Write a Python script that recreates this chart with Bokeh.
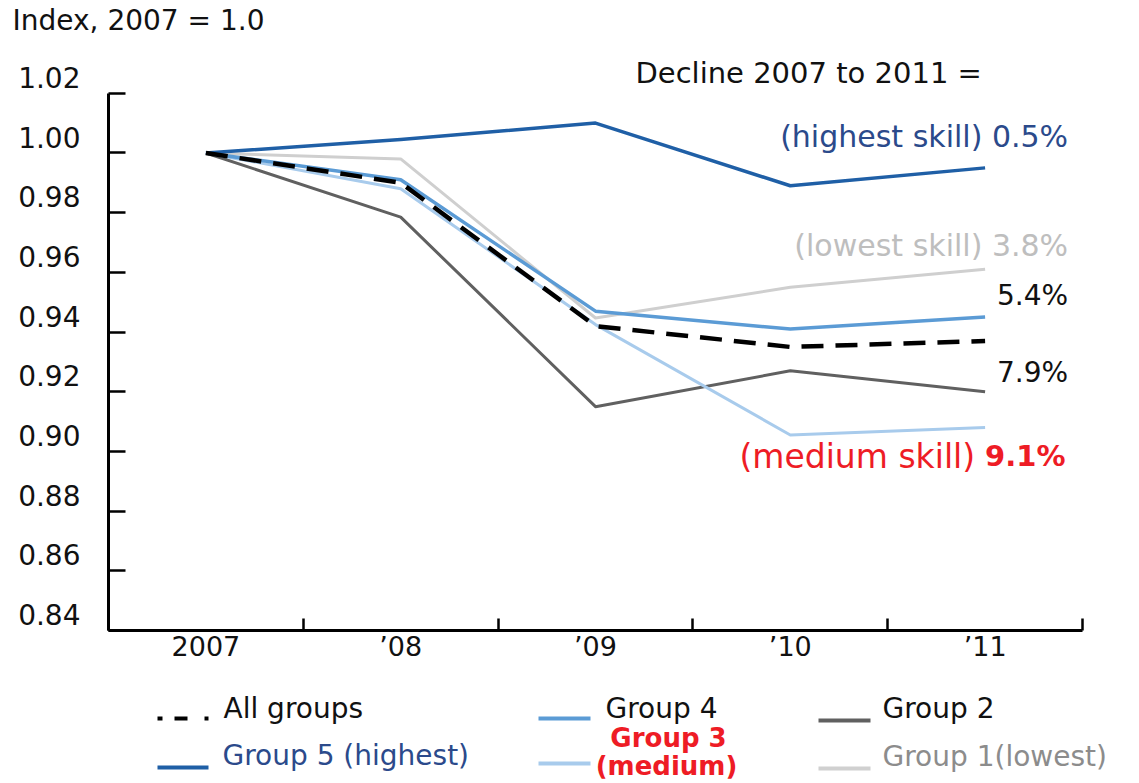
from bokeh.plotting import figure
from bokeh.models import (Range1d, LinearAxis, FixedTicker, Label,
                          CustomJSTickFormatter, PrintfTickFormatter)
from bokeh.layouts import column
from bokeh.embed import file_html
from bokeh.resources import INLINE

# ---------------- data ----------------
years = ["2007", "\u201908", "\u201909", "\u201910", "\u201911"]
all_groups = [1.000, 0.990, 0.942, 0.935, 0.937]
group5 = [1.000, 1.0045, 1.010, 0.989, 0.995]
group4 = [1.000, 0.991, 0.947, 0.941, 0.945]
group3 = [1.000, 0.988, 0.9425, 0.9055, 0.908]
group2 = [1.000, 0.9785, 0.915, 0.927, 0.920]
group1 = [1.000, 0.998, 0.9447, 0.955, 0.961]
y_ticks = [0.84, 0.86, 0.88, 0.90, 0.92, 0.94, 0.96, 0.98, 1.00, 1.02]
declines = ["0.5%", "3.8%", "5.4%", "7.9%", "9.1%"]
y_title = "Index, 2007 = 1.0"

ARIAL = "DejaVu Sans"
x = list(range(len(years)))
bounds_x = [i - 0.5 for i in range(len(years) + 1)]

# ---------------- geometry (layout only) ----------------
W = 1139
LEFT = 108          # frame left (y axis)
TOP = 44            # frame top
BOTTOM = 630        # frame bottom (x axis)
MAIN_H = 685
LEG_H = 96
UNIT_X = 194.8      # px per category
PX = 0.02 / 60.0    # data units per vertical pixel

y0 = min(y_ticks)
y1 = y0 + (BOTTOM - TOP) * PX
x0 = -0.5
x1 = x0 + (W - LEFT) / UNIT_X


def yv(py):
    return y0 + (BOTTOM - py) * PX


def xv(px):
    return (px - LEFT) / UNIT_X - 0.5


p = figure(width=W, height=MAIN_H, x_range=Range1d(x0, x1),
           y_range=Range1d(y0, y1), output_backend="svg",
           toolbar_location=None, min_border_left=LEFT, min_border_right=0,
           min_border_top=TOP, min_border_bottom=MAIN_H - BOTTOM)
p.outline_line_color = None
p.xgrid.visible = False
p.ygrid.visible = False
p.background_fill_color = "white"
p.border_fill_color = "white"

# y axis (ticks + line)
ya = p.yaxis[0]
ya.ticker = FixedTicker(ticks=y_ticks, minor_ticks=[])
ya.bounds = (min(y_ticks), max(y_ticks))
ya.formatter = CustomJSTickFormatter(code="return ''")
ya.major_tick_in = 17
ya.major_tick_out = 0
ya.minor_tick_in = 0
ya.minor_tick_out = 0
ya.axis_line_width = 3
ya.major_tick_line_width = 2.5
ya.major_label_standoff = 0

# y axis labels, sitting slightly above their ticks
shift = 16 * PX
p.extra_y_ranges = {"lab": Range1d(y0 - shift, y1 - shift)}
yl = LinearAxis(y_range_name="lab", ticker=FixedTicker(ticks=y_ticks, minor_ticks=[]),
                formatter=PrintfTickFormatter(format="%.2f"))
yl.axis_line_color = None
yl.major_tick_line_color = None
yl.minor_tick_line_color = None
yl.major_label_standoff = 22
yl.major_label_text_font = ARIAL
yl.major_label_text_font_size = "28px"
yl.major_label_text_color = "#111111"
p.add_layout(yl, "left")

# x axis
xa = p.xaxis[0]
xa.ticker = FixedTicker(ticks=x, minor_ticks=bounds_x)
xa.bounds = (min(bounds_x), max(bounds_x))
xa.major_label_overrides = {i: lab for i, lab in zip(x, years)}
xa.major_tick_in = 0
xa.major_tick_out = 0
xa.minor_tick_in = 12
xa.minor_tick_out = 0
xa.minor_tick_line_width = 2.5
xa.minor_tick_line_color = "black"
xa.axis_line_width = 3
xa.major_label_standoff = 0
xa.major_label_text_font = ARIAL
xa.major_label_text_font_size = "27px"
xa.major_label_text_color = "#111111"

# "Index, 2007 = 1.0" as a single label on an axis above the frame
title_pos = xv(138)
ta = LinearAxis(ticker=FixedTicker(ticks=[title_pos], minor_ticks=[]))
ta.major_label_overrides = {title_pos: y_title}
ta.axis_line_color = None
ta.major_tick_line_color = None
ta.minor_tick_line_color = None
ta.major_label_standoff = 5
ta.major_label_text_font = ARIAL
ta.major_label_text_font_size = "28px"
ta.major_label_text_color = "#111111"
p.add_layout(ta, "above")

# series
series = [
    (group1, "#CFCFCF", 3.0, "solid"),
    (group2, "#606060", 3.0, "solid"),
    (group3, "#A8CBEC", 3.0, "solid"),
    (group4, "#5B9BD5", 3.5, "solid"),
    (group5, "#1F5FA6", 3.5, "solid"),
    (all_groups, "black", 4.5, "22 12"),
]
for vals, col, w, dash in series:
    p.line(x, vals, line_color=col, line_width=w, line_dash=dash, line_join="round")


def lab(fig, xx, yy, text, size, color="#111111", align="left", font=ARIAL,
        style="normal", x_offset=0):
    fig.add_layout(Label(x=xx, y=yy, text=text, text_font=font,
                         text_font_size=size, text_color=color,
                         text_align=align, text_baseline="middle",
                         text_font_style=style, x_offset=x_offset))


lab(p, xv(635), yv(70), "Decline 2007 to 2011 =", "29px")
lab(p, 4, yv(133), "(highest skill) " + declines[0], "30px", "#2B4A8B", "right", x_offset=83)
lab(p, 4, yv(243), "(lowest skill) " + declines[1], "30px", "#BEBEBE", "right", x_offset=83)
lab(p, 4, yv(293), declines[2], "28px", "#111111", "right", x_offset=83)
lab(p, 4, yv(371), declines[3], "28px", "#111111", "right", x_offset=83)
lab(p, 4, yv(455), "(medium skill)", "33px", "#EE1C25", "right", x_offset=-10)
lab(p, 4, yv(455), declines[4], "29px", "#EE1C25", "left", style="bold")

# ---------------- legend figure (coordinates = page pixels) ----------------
lg = figure(width=W, height=LEG_H, x_range=Range1d(LEFT, W),
            y_range=Range1d(MAIN_H + LEG_H, MAIN_H),
            output_backend="svg", toolbar_location=None,
            min_border_left=LEFT, min_border_right=0,
            min_border_top=0, min_border_bottom=0)
lg.axis.visible = False
lg.xgrid.visible = False
lg.ygrid.visible = False
lg.outline_line_color = None
lg.border_fill_color = "white"

lg.line([157, 208], [718, 718], line_color="black", line_width=4, line_dash="5 12 13 17")
lg.line([157, 208], [767, 767], line_color="#1F5FA6", line_width=4)
lg.line([538, 590], [718, 718], line_color="#5B9BD5", line_width=4)
lg.line([538, 590], [763, 763], line_color="#A8CBEC", line_width=4)
lg.line([818, 870], [720, 720], line_color="#606060", line_width=4)
lg.line([818, 870], [768, 768], line_color="#D0D0D0", line_width=4)

lab(lg, 223, 708, "All groups", "28px", "#111111")
lab(lg, 222, 755, "Group 5 (highest)", "28px", "#2B4A8B")
lab(lg, 605, 708, "Group 4", "28px", "#111111")
lab(lg, 668, 737, "Group 3", "26px", "#EE1C25", "center", style="bold")
lab(lg, 666, 765, "(medium)", "26px", "#EE1C25", "center", style="bold")
lab(lg, 882, 708, "Group 2", "28px", "#111111")
lab(lg, 882, 756, "Group 1(lowest)", "28px", "#8C8C8C")

layout = column(p, lg, spacing=0)
open("out.html", "w").write(file_html(layout, INLINE))
